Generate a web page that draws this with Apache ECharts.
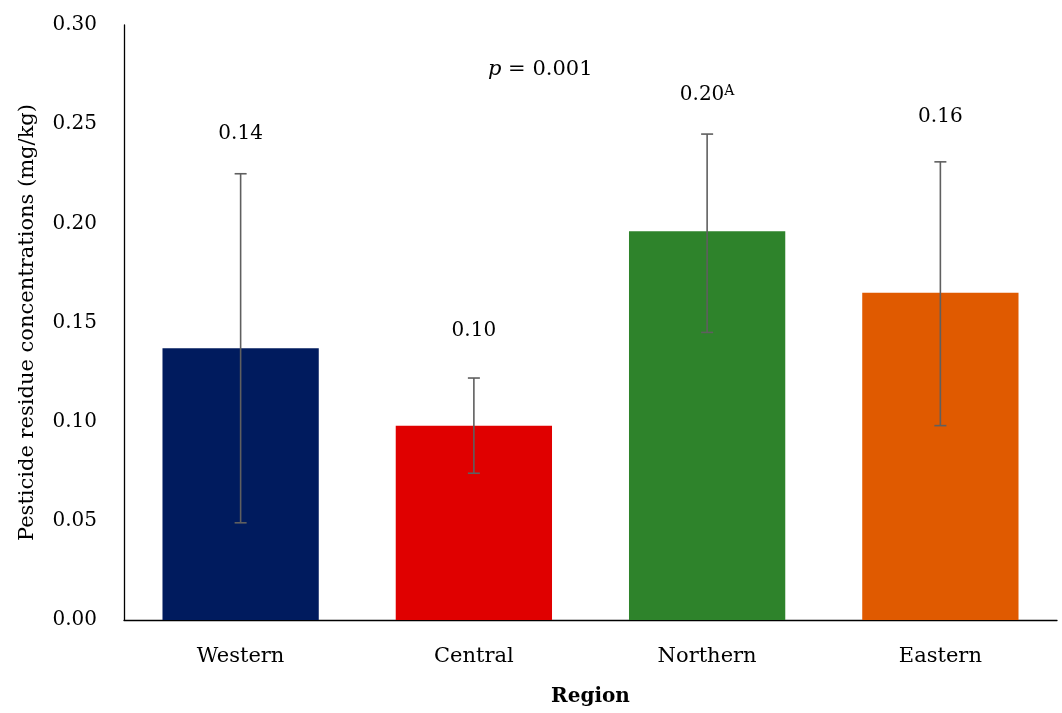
<!DOCTYPE html>
<html><head><meta charset="utf-8">
<script src="https://cdn.jsdelivr.net/npm/echarts@6/dist/echarts.min.js"></script>
<style>html,body{margin:0;padding:0;background:#fff}#c{width:1062px;height:713px}</style>
</head><body><div id="c"></div>
<script>
const categories = ['Western', 'Central', 'Northern', 'Eastern'];
const means = [0.137, 0.098, 0.196, 0.165];
const errLow = [0.049, 0.074, 0.145, 0.098];
const errHigh = [0.225, 0.122, 0.245, 0.231];
const labelTexts = ['0.14', '0.10', '0.20', '0.16'];
const labelSup = ['', '', 'A', ''];
const colors = ['#001B5E', '#E00000', '#2E832B', '#E05A00'];
const yTicks = [0, 0.05, 0.10, 0.15, 0.20, 0.25, 0.30];
const labelGaps = [40, 47, 39, 45];

const FONT = 'DejaVu Serif';
const FS = 21;
const chart = echarts.init(document.getElementById('c'), null, {renderer: 'canvas'});
chart.setOption({
  animation: false,
  grid: {left: 124, right: 5, top: 25, bottom: 93},
  xAxis: {
    type: 'category', data: categories,
    axisLine: {lineStyle: {color: '#000', width: 1.3}},
    axisTick: {show: false},
    axisLabel: {color: '#000', fontFamily: FONT, fontSize: FS, margin: 26},
    name: 'Region', nameLocation: 'middle', nameGap: 67,
    nameTextStyle: {color: '#000', fontFamily: FONT, fontSize: FS - 1, fontWeight: 'bold'}
  },
  yAxis: {
    type: 'value', min: 0, max: 0.30, interval: 0.05,
    axisLine: {show: true, lineStyle: {color: '#000', width: 1.3}},
    axisTick: {show: false},
    splitLine: {show: false},
    axisLabel: {color: '#000', fontFamily: FONT, fontSize: FS - 1, margin: 27,
      formatter: v => v.toFixed(2)},
    name: 'Pesticide residue concentrations (mg/kg)', nameLocation: 'middle', nameGap: 86,
    nameTextStyle: {color: '#000', fontFamily: FONT, fontSize: FS}
  },
  graphic: [{
    type: 'text', left: 488, top: 59,
    style: {
      text: '{i|p} = 0.001',
      rich: {i: {fontStyle: 'italic', fontFamily: FONT, fontSize: FS, fill: '#000'}},
      fontFamily: FONT, fontSize: FS, fill: '#000'
    }
  }],
  series: [{
    type: 'bar', barWidth: '67%',
    data: means.map((v, i) => ({value: v, itemStyle: {color: colors[i]}}))
  }, {
    type: 'custom',
    data: categories.map((c, i) => [i, errLow[i], errHigh[i]]),
    z: 10,
    renderItem: function (params, api) {
      const i = api.value(0);
      const lo = api.coord([i, api.value(1)]);
      const hi = api.coord([i, api.value(2)]);
      const hw = 6;
      const st = {stroke: '#5F5F5F', lineWidth: 1.6};
      return {
        type: 'group',
        children: [
          {type: 'line', shape: {x1: lo[0], y1: lo[1], x2: hi[0], y2: hi[1]}, style: st},
          {type: 'line', shape: {x1: lo[0] - hw, y1: lo[1], x2: lo[0] + hw, y2: lo[1]}, style: st},
          {type: 'line', shape: {x1: hi[0] - hw, y1: hi[1], x2: hi[0] + hw, y2: hi[1]}, style: st},
          {type: 'text', x: hi[0], y: hi[1] - labelGaps[i],
            style: {
              text: labelTexts[i] + (labelSup[i] ? '{s|' + labelSup[i] + '}' : ''),
              rich: {s: {fontFamily: FONT, fontSize: 14, fill: '#000', verticalAlign: 'bottom', padding: [0, 0, 8, 0]}},
              fontFamily: FONT, fontSize: FS - 1, fill: '#000',
              align: 'center', verticalAlign: 'middle'
            }}
        ]
      };
    }
  }]
});
</script>
</body></html>
